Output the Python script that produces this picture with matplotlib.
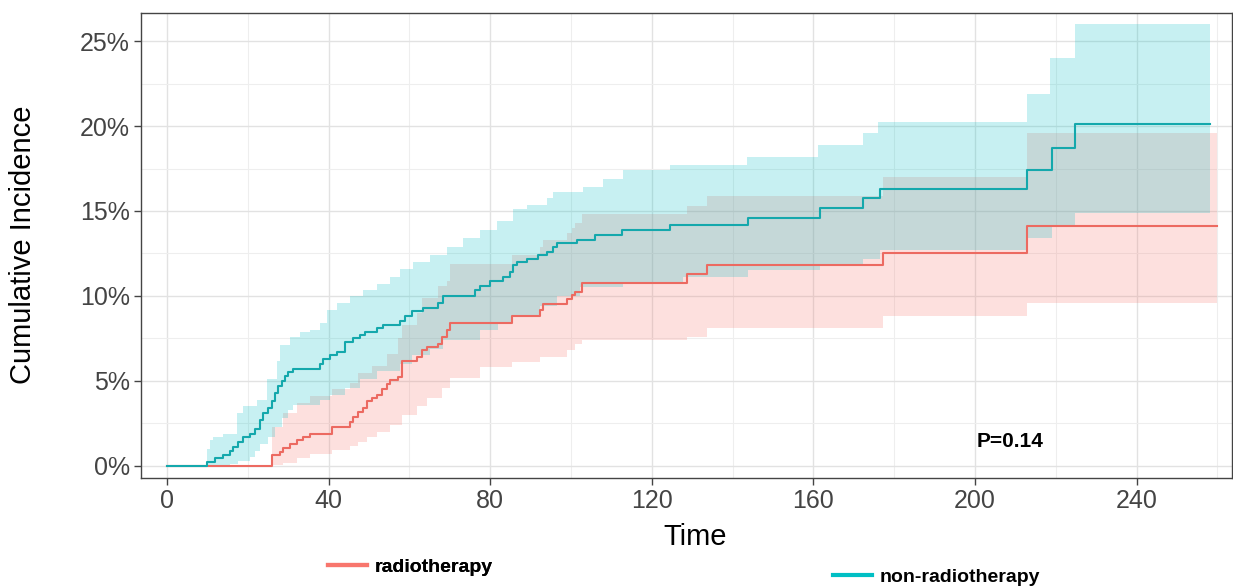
import numpy as np
import matplotlib
matplotlib.use("Agg")
import matplotlib.pyplot as plt
from matplotlib.lines import Line2D

plt.rcParams['font.family'] = ['Liberation Sans', 'DejaVu Sans']

# ---------------- data (time, cumulative incidence in %) ----------------
groups = ["radiotherapy", "non-radiotherapy"]
p_value_text = "P=0.14"

# non-radiotherapy estimate
teal_t = [0, 10.0, 11.9, 13.9, 15.6, 16.3, 17.6, 18.8, 20.5, 21.8,
          23.0, 23.8, 25.0, 26.0, 26.7, 27.5, 28.5, 29.2, 30.0, 31.2,
          37.9, 38.6, 40.3, 42.1, 44.1, 46.0, 47.8, 49.0, 52.0, 53.5,
          57.7, 58.9, 60.6, 63.4, 67.1, 68.3, 76.2, 77.5, 80.0, 83.2,
          84.9, 85.6, 86.6, 89.1, 91.8, 94.1, 95.5, 96.5, 101.5, 105.9,
          112.6, 124.5, 143.8, 161.6, 172.3, 176.5, 212.8, 219.0, 224.8, 258.2]
teal_ci = [0, 0.25, 0.45, 0.65, 0.85, 1.1, 1.4, 1.7, 1.9, 2.2,
           2.7, 3.1, 3.4, 3.8, 4.3, 4.7, 5.0, 5.3, 5.5, 5.7,
           6.0, 6.3, 6.5, 6.7, 7.3, 7.5, 7.7, 7.9, 8.1, 8.3,
           8.5, 8.8, 9.1, 9.3, 9.6, 10.0, 10.35, 10.6, 10.9, 11.1,
           11.4, 11.8, 12.0, 12.2, 12.4, 12.6, 12.9, 13.1, 13.3, 13.6,
           13.9, 14.2, 14.6, 15.2, 15.75, 16.3, 17.4, 18.7, 20.1, 20.1]

# non-radiotherapy confidence band
teal_hi_t = [0, 9.8, 10.6, 11.4, 13.9, 17.3, 18.8, 22.3, 24.8, 27.2,
             28.0, 30.4, 32.9, 35.4, 37.9, 39.6, 42.1, 45.3, 48.5, 52.0,
             55.2, 57.7, 60.9, 65.1, 69.3, 73.3, 77.5, 81.7, 85.6, 89.1,
             94.1, 95.5, 103.0, 107.9, 112.9, 124.5, 143.6, 161.1, 172.3, 176.0,
             212.8, 218.6, 224.8, 258.2]
teal_hi = [0, 1.0, 1.5, 1.7, 1.9, 3.1, 3.5, 3.9, 5.1, 6.2,
           7.1, 7.6, 7.9, 8.0, 8.4, 9.2, 9.6, 10.0, 10.35, 10.7,
           11.1, 11.6, 12.0, 12.4, 12.9, 13.4, 13.9, 14.4, 15.1, 15.35,
           15.75, 16.1, 16.4, 16.9, 17.4, 17.7, 18.2, 18.9, 19.6, 20.25,
           21.9, 24.0, 26.0, 26.0]
teal_lo_t = [0, 15.6, 17.6, 20.5, 21.8, 23.0, 25.0, 26.7, 28.5, 30.0,
             31.2, 37.9, 40.3, 44.1, 47.8, 52.0, 57.7, 60.6, 65.0, 68.3,
             77.5, 82.0, 85.6, 92.3, 96.5, 102.2, 112.9, 127.7, 143.8, 161.6,
             172.3, 176.5, 212.8, 219.0, 224.8, 258.2]
teal_lo = [0, 0.1, 0.3, 0.5, 0.9, 1.3, 1.7, 2.3, 2.8, 3.3,
           3.6, 3.9, 4.2, 4.6, 5.1, 5.6, 6.0, 6.5, 6.9, 7.4,
           8.0, 8.4, 8.8, 9.4, 10.0, 10.5, 10.85, 11.1, 11.5, 11.9,
           12.2, 12.7, 13.4, 14.2, 14.9, 14.9]

# radiotherapy estimate
red_t = [0, 25.9, 28.0, 28.7, 30.4, 32.2, 33.7, 35.4, 40.8, 45.3,
         46.0, 47.3, 48.5, 49.5, 50.7, 52.0, 53.2, 54.5, 55.2, 57.2,
         58.2, 61.9, 63.1, 64.4, 67.1, 68.1, 69.3, 70.0, 85.4, 92.3,
         93.1, 99.0, 100.2, 101.0, 102.7, 128.7, 133.7, 177.2, 212.8, 259.8]
red_ci = [0, 0.65, 0.84, 1.04, 1.3, 1.5, 1.7, 1.9, 2.3, 2.6,
          2.9, 3.2, 3.4, 3.8, 4.0, 4.2, 4.5, 4.8, 5.05, 5.25,
          6.2, 6.4, 6.8, 7.0, 7.2, 7.6, 8.0, 8.4, 8.8, 9.2,
          9.5, 9.8, 10.05, 10.25, 10.75, 11.3, 11.8, 12.55, 14.1, 14.1]

# radiotherapy confidence band
red_hi_t = [0, 25.9, 28.7, 32.2, 35.4, 40.8, 45.3, 47.3, 50.7, 54.5,
            57.2, 58.2, 61.9, 63.1, 67.1, 69.3, 70.0, 85.4, 92.3, 93.1,
            99.0, 100.2, 101.0, 102.7, 128.7, 133.7, 177.2, 212.8, 259.8]
red_hi = [0, 2.3, 3.1, 3.7, 4.1, 4.5, 4.9, 5.45, 5.9, 6.6,
          7.5, 8.3, 9.0, 9.9, 10.6, 10.9, 11.9, 12.4, 12.9, 13.3,
          13.7, 14.0, 14.3, 14.8, 15.3, 15.9, 17.0, 19.6, 19.6]
red_lo_t = [0, 25.9, 28.7, 32.2, 35.4, 40.8, 45.3, 47.3, 49.5, 52.0,
            55.2, 58.2, 61.9, 64.4, 68.1, 70.0, 77.5, 85.4, 92.3, 99.0,
            101.0, 102.7, 128.7, 133.7, 177.2, 212.8, 259.8]
red_lo = [0, 0.05, 0.2, 0.45, 0.7, 0.95, 1.2, 1.4, 1.7, 2.0,
          2.4, 3.0, 3.5, 4.0, 4.6, 5.2, 5.8, 6.1, 6.4, 6.8,
          7.2, 7.4, 7.6, 8.1, 8.85, 9.6, 9.6]

x_ticks = [0, 40, 80, 120, 160, 200, 240]
y_ticks = [0, 5, 10, 15, 20, 25]
y_tick_labels = ["0%", "5%", "10%", "15%", "20%", "25%"]

# ---------------- style ----------------
red_line = "#EC6A61"
red_fill = "#F8766D"
teal_line = "#14A8AC"
teal_fill = "#00BFC4"


def band(lo_t, lo_v, hi_t, hi_v):
    """Put two step functions on a common time grid (step hold, post)."""
    t = np.union1d(lo_t, hi_t)
    lo = np.asarray(lo_v)[np.searchsorted(lo_t, t, side="right") - 1]
    hi = np.asarray(hi_v)[np.searchsorted(hi_t, t, side="right") - 1]
    return t, lo, hi


W, H = 1233, 587
fig = plt.figure(figsize=(W / 100, H / 100), dpi=100)
ax = fig.add_axes([141 / W, 1 - 478 / H, (1232 - 141) / W, (478 - 13) / H])

# bands
rt, rlo, rhi = band(red_lo_t, red_lo, red_hi_t, red_hi)
ax.fill_between(rt, rlo, rhi, step="post", color=red_fill, alpha=0.22, lw=0, zorder=2)
tt, tlo, thi = band(teal_lo_t, teal_lo, teal_hi_t, teal_hi)
ax.fill_between(tt, tlo, thi, step="post", color=teal_fill, alpha=0.22, lw=0, zorder=2)

# curves
ax.step(red_t, red_ci, where="post", color=red_line, lw=1.5, zorder=3)
ax.step(teal_t, teal_ci, where="post", color=teal_line, lw=1.5, zorder=4)

ax.text(208.6, 1.45, p_value_text, ha="center", va="center",
        fontsize=15, fontweight="bold", color="black", zorder=5)

# axes
ax.set_xlim(-6.43, 263.6)
ax.set_ylim(-0.71, 26.65)
ax.set_xticks(x_ticks)
ax.set_xticks(np.arange(20, 261, 40), minor=True)
ax.set_yticks(y_ticks)
ax.set_yticklabels(y_tick_labels)
ax.set_yticks(np.arange(2.5, 26, 5), minor=True)
ax.grid(which="major", color="#E2E2E2", lw=1.0, zorder=0)
ax.grid(which="minor", color="#EEEEEE", lw=0.8, zorder=0)
ax.set_axisbelow(True)
ax.tick_params(which="major", direction="out", length=5, width=1.0,
               color="#444444", labelsize=18, labelcolor="#444444", pad=3)
ax.tick_params(which="minor", length=0)
for s in ax.spines.values():
    s.set_color("#444444")
    s.set_linewidth(1.0)

fig.text(23 / W, 1 - 245 / H, "Cumulative Incidence", rotation=90,
         ha="center", va="center", fontsize=21, color="black")
fig.text(695 / W, 1 - 537 / H, "Time", ha="center", va="center",
         fontsize=21, color="black")

# legend (two separate entries as in the reference)
leg1 = fig.legend([Line2D([], [], color=red_fill, lw=3)], [groups[0]],
                  loc="center left", bbox_to_anchor=(328 / W, 1 - 567 / H),
                  frameon=False, borderpad=0, borderaxespad=0,
                  handlelength=2.0, handletextpad=0.4,
                  prop={"size": 14, "weight": "bold"})
leg2 = fig.legend([Line2D([], [], color=teal_fill, lw=3)], [groups[1]],
                  loc="center left", bbox_to_anchor=(833 / W, 1 - 577 / H),
                  frameon=False, borderpad=0, borderaxespad=0,
                  handlelength=2.0, handletextpad=0.4,
                  prop={"size": 14, "weight": "bold"})
fig.add_artist(leg1)

fig.savefig("out.png", dpi=100)
